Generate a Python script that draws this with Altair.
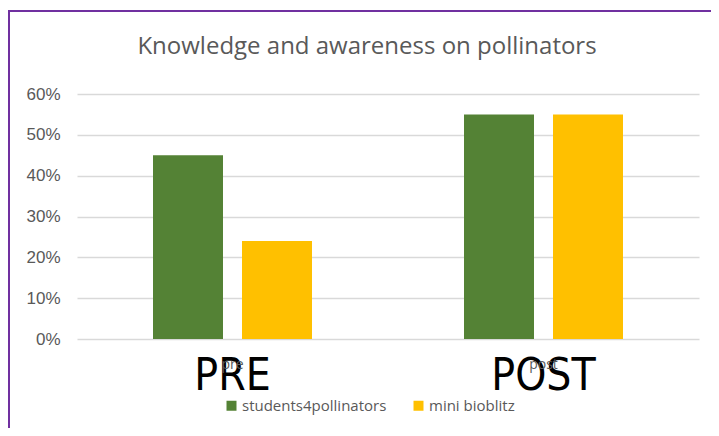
import altair as alt
import pandas as pd

categories = ["pre", "post"]
big_labels = ["PRE", "POST"]
series = ["students4pollinators", "mini bioblitz"]
students4pollinators = [0.45, 0.55]
mini_bioblitz = [0.24, 0.55]
colors = ["#548235", "#FFC000"]
y_ticks = [0, 0.1, 0.2, 0.3, 0.4, 0.5, 0.6]

rows = []
for i, c in enumerate(categories):
    rows.append({"phase": c, "series": series[0], "value": students4pollinators[i]})
    rows.append({"phase": c, "series": series[1], "value": mini_bioblitz[i]})
df = pd.DataFrame(rows)
df_big = pd.DataFrame({"phase": categories, "label": big_labels})

FONT = "Open Sans"
GREY = "#595959"

x_enc = alt.X(
    "phase:N",
    sort=categories,
    scale=alt.Scale(paddingInner=0, paddingOuter=0),
    axis=alt.Axis(title=None, labelAngle=0, ticks=False, domain=False,
                  labelFontSize=14, labelColor=GREY, labelFont=FONT,
                  labelPadding=18, zindex=1),
)

bars = alt.Chart(df).mark_bar().encode(
    x=x_enc,
    xOffset=alt.XOffset("series:N", sort=series,
                        scale=alt.Scale(paddingInner=0.2135, paddingOuter=0.854)),
    y=alt.Y("value:Q",
            scale=alt.Scale(domain=[0, 0.6], nice=False),
            axis=alt.Axis(title=None, values=y_ticks, format=".0%", ticks=False,
                          domain=False, labelFontSize=17, labelColor=GREY,
                          labelFont="Liberation Sans", labelPadding=17,
                          gridColor="#D9D9D9", gridWidth=1.3)),
    color=alt.Color("series:N", sort=series,
                    scale=alt.Scale(domain=series, range=colors),
                    legend=alt.Legend(title=None, orient="none", direction="horizontal",
                                      legendX=147, legendY=304,
                                      symbolType="square", symbolSize=100,
                                      symbolStrokeWidth=0,
                                      labelFontSize=15, labelColor=GREY, labelFont=FONT,
                                      labelOffset=3, columnPadding=24)),
)

big = alt.Chart(df_big).mark_text(
    fontSize=44, color="black", baseline="alphabetic", align="center",
    font="Liberation Sans Narrow, DejaVu Sans Condensed, sans-serif",
).encode(
    x=alt.X("phase:N", sort=categories),
    y=alt.value(296),
    text="label:N",
)

border_left = alt.Chart(df_big).mark_rule(color="#7030A0", strokeWidth=2).encode(
    x=alt.value(-68), y=alt.value(-83), y2=alt.value(340)
)
border_top = alt.Chart(df_big).mark_rule(color="#7030A0", strokeWidth=2).encode(
    x=alt.value(-69), x2=alt.value(640), y=alt.value(-83)
)

chart = alt.layer(bars, big, border_left, border_top).properties(
    width=622,
    height=245,
    title=alt.TitleParams("Knowledge and awareness on pollinators", fontSize=24,
                          color=GREY, font=FONT, fontWeight="normal",
                          anchor="middle", baseline="alphabetic",
                          dx=-21, dy=68, offset=0),
    autosize=alt.AutoSizeParams(type="none"),
    padding={"left": 69, "top": 86, "right": 12, "bottom": 89},
).configure_view(stroke=None)

chart.save("out.html", embed_options={"renderer": "svg", "actions": False})
